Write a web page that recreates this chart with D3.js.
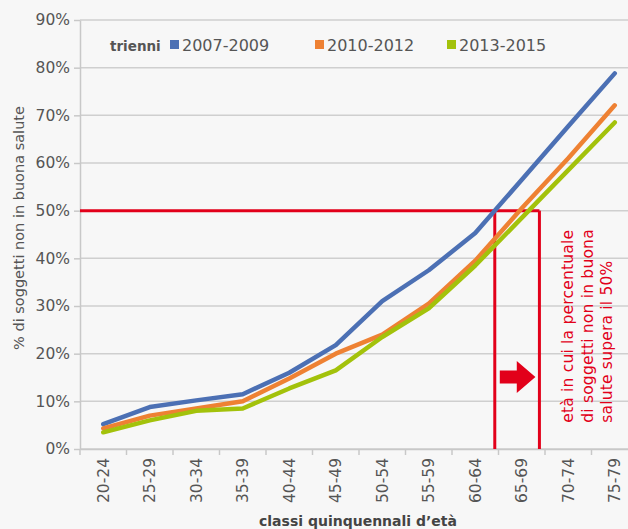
<!DOCTYPE html>
<html>
<head>
<meta charset="utf-8">
<script src="https://cdn.jsdelivr.net/npm/d3@7"></script>
<style>
  body { margin: 0; background: #f7f7f7; }
  svg { display: block; font-family: "DejaVu Sans", "Open Sans", sans-serif; }
</style>
</head>
<body>
<div id="chart"></div>
<script>
// Age classes and series (share of people not in good health, %)
const ageClasses = ["20-24", "25-29", "30-34", "35-39", "40-44", "45-49", "50-54", "55-59", "60-64", "65-69", "70-74", "75-79"];
const series0709 = [5.2, 8.8, 10.2, 11.5, 16.0, 21.8, 31.0, 37.5, 45.3, 56.5, 67.7, 78.8];
const series1012 = [4.3, 7.0, 8.5, 10.0, 14.8, 20.0, 24.0, 30.5, 39.5, 50.5, 61.0, 72.1];
const series1315 = [3.5, 6.0, 8.0, 8.5, 12.7, 16.5, 23.5, 29.5, 38.5, 48.5, 58.5, 68.5];
const seriesNames = ["2007-2009", "2010-2012", "2013-2015"];
const yTicks = [0, 10, 20, 30, 40, 50, 60, 70, 80, 90];
const threshold = 50;
// crossing points of the 50% threshold (fractional index along the age classes)
const crossings = [8.42, 9.38];

const margin = { top: 20, right: 0, bottom: 80, left: 80 };
const W = 628, H = 529;
const width = 558;
const height = H - margin.top - margin.bottom;

const svg = d3.select("#chart")
    .append("svg")
    .attr("width", W)
    .attr("height", H);

svg.append("rect").attr("width", W).attr("height", H).attr("fill", "#f7f7f7");

const g = svg.append("g")
    .attr("transform", `translate(${margin.left},${margin.top})`);

const x = d3.scaleBand()
    .domain(ageClasses)
    .range([0, width]);

const y = d3.scaleLinear()
    .domain([0, 90])
    .range([height, 0]);

const xc = i => x(ageClasses[0]) + x.bandwidth() * (i + 0.5);

// Gridlines
g.selectAll(".grid")
    .data(yTicks)
    .enter()
    .append("line")
    .attr("x1", 0)
    .attr("x2", width)
    .attr("y1", d => y(d))
    .attr("y2", d => y(d))
    .style("stroke", "#cfcfcf")
    .style("stroke-width", 1.5);

// Y axis
const yAxis = g.append("g")
    .call(d3.axisLeft(y).tickValues(yTicks).tickFormat(d => d + "%").tickSize(6).tickSizeOuter(0));
yAxis.select(".domain").style("stroke", "#c8c8c8").style("stroke-width", 1.5);
yAxis.selectAll(".tick line").style("stroke", "#c8c8c8").style("stroke-width", 1.5);
yAxis.selectAll("text")
    .attr("x", -10)
    .style("font-family", "DejaVu Sans")
    .style("font-size", "15.5px")
    .style("fill", "#555");

// X axis
const xAxis = g.append("g")
    .attr("transform", `translate(0,${height})`)
    .call(d3.axisBottom(x).tickSize(0));
xAxis.select(".domain").style("stroke", "#c8c8c8").style("stroke-width", 1.5);
xAxis.selectAll("text")
    .attr("transform", "rotate(-90)")
    .attr("x", -9)
    .attr("y", 0)
    .attr("dy", "0.35em")
    .style("text-anchor", "end")
    .style("font-family", "DejaVu Sans")
    .style("font-size", "15.5px")
    .style("fill", "#555");

// X tick marks at band boundaries
g.selectAll(".xtick")
    .data(d3.range(ageClasses.length + 1))
    .enter()
    .append("line")
    .attr("x1", i => i * x.bandwidth())
    .attr("x2", i => i * x.bandwidth())
    .attr("y1", height)
    .attr("y2", height + 6)
    .style("stroke", "#c8c8c8")
    .style("stroke-width", 1.5);

// Axis titles
svg.append("text")
    .attr("x", 358)
    .attr("y", 526)
    .style("text-anchor", "middle")
    .style("font-size", "14px")
    .style("font-weight", "700")
    .style("fill", "#444")
    .text("classi quinquennali d’età");

svg.append("text")
    .attr("transform", "rotate(-90)")
    .attr("x", -228)
    .attr("y", 24)
    .style("text-anchor", "middle")
    .style("font-size", "14.5px")
    .style("fill", "#555")
    .text("% di soggetti non in buona salute");

// Threshold annotation
const red = "#e2001a";
const yT = y(threshold);
const xCross = crossings.map(c => c * x.bandwidth() + x.bandwidth() / 2);

g.append("line")
    .attr("x1", 0).attr("x2", xCross[1])
    .attr("y1", yT).attr("y2", yT)
    .style("stroke", red).style("stroke-width", 3);

g.selectAll(".vline")
    .data(xCross)
    .enter()
    .append("line")
    .attr("x1", d => d).attr("x2", d => d)
    .attr("y1", yT).attr("y2", height)
    .style("stroke", red).style("stroke-width", 3);

// Series lines
const colors = ["#4c70b4", "#ee8133", "#a3c20b"];
const allSeries = [series0709, series1012, series1315];
const line = d3.line()
    .x((d, i) => xc(i))
    .y(d => y(d));

g.selectAll(".series")
    .data(allSeries)
    .enter()
    .append("path")
    .attr("d", line)
    .style("fill", "none")
    .style("stroke", (d, i) => colors[i])
    .style("stroke-width", 4.5)
    .style("stroke-linejoin", "round")
    .style("stroke-linecap", "round");

// Arrow
const ay = y(15.1);
const ax0 = xCross[0] + 5;
const ax1 = xCross[1] - 4;
g.append("path")
    .attr("d", `M${ax0},${ay - 6.5} L${ax0 + 17},${ay - 6.5} L${ax0 + 17},${ay - 16} L${ax1},${ay} L${ax0 + 17},${ay + 16} L${ax0 + 17},${ay + 6.5} L${ax0},${ay + 6.5} Z`)
    .style("fill", red);

const noteLines = ["età in cui la percentuale", "di soggetti non in buona", "salute supera il 50%"];
g.selectAll(".note")
    .data(noteLines)
    .enter()
    .append("text")
    .attr("transform", (d, i) => `translate(${xCross[1] + 34 + i * 19.5},${y(5.5)}) rotate(-90)`)
    .style("font-size", "15.5px")
    .style("letter-spacing", "0.2px")
    .style("fill", red)
    .text(d => d);

// Legend
const legend = svg.append("g").attr("transform", "translate(110,51)");
legend.append("text")
    .attr("x", 0).attr("y", 0)
    .style("font-size", "13.5px")
    .style("font-weight", "700")
    .style("fill", "#555")
    .text("trienni");

const legendX = [60, 205, 337];
seriesNames.forEach((name, i) => {
    legend.append("rect")
        .attr("x", legendX[i]).attr("y", -11)
        .attr("width", 9).attr("height", 9)
        .style("fill", colors[i]);
    legend.append("text")
        .attr("x", legendX[i] + 12).attr("y", 0)
        .style("font-size", "16px")
        .style("fill", "#555")
        .text(name);
});
</script>
</body>
</html>
